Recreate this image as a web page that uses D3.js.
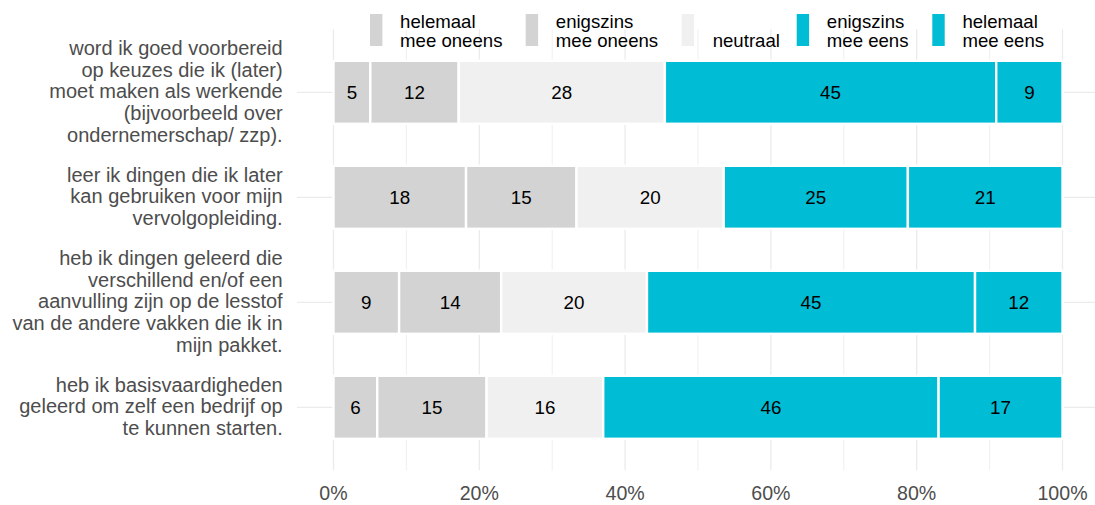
<!DOCTYPE html>
<html>
<head>
<meta charset="utf-8">
<script src="https://cdn.jsdelivr.net/npm/d3@7"></script>
<style>
  html, body { margin: 0; padding: 0; background: #fff; }
  svg { display: block; font-family: "Liberation Sans", Arial, sans-serif; }
</style>
</head>
<body>
<svg id="chart" width="1095" height="505"></svg>
<script>
// Statements (one per bar), with line breaks as drawn
const categories = [
  "word ik goed voorbereid\nop keuzes die ik (later)\nmoet maken als werkende\n(bijvoorbeeld over\nondernemerschap/ zzp).",
  "leer ik dingen die ik later\nkan gebruiken voor mijn\nvervolgopleiding.",
  "heb ik dingen geleerd die\nverschillend en/of een\naanvulling zijn op de lesstof\nvan de andere vakken die ik in\nmijn pakket.",
  "heb ik basisvaardigheden\ngeleerd om zelf een bedrijf op\nte kunnen starten."
];

// Answer scale, left to right
const answers = [
  "helemaal\nmee oneens",
  "enigszins\nmee oneens",
  "neutraal",
  "enigszins\nmee eens",
  "helemaal\nmee eens"
];

// Percentages per statement, in answer order
const helemaalOneens  = [5, 18, 9, 6];
const enigszinsOneens = [12, 15, 14, 15];
const neutraal        = [28, 20, 20, 16];
const enigszinsEens   = [45, 25, 45, 46];
const helemaalEens    = [9, 21, 12, 17];

const xTicks = [0, 0.2, 0.4, 0.6, 0.8, 1.0];
const xMinor = [0.1, 0.3, 0.5, 0.7, 0.9];

const colors = ["#d3d3d3", "#d3d3d3", "#f0f0f0", "#00bcd4", "#00bcd4"];

const series = [helemaalOneens, enigszinsOneens, neutraal, enigszinsEens, helemaalEens];
const rows = categories.map((c, i) => {
  const r = { cat: c };
  answers.forEach((a, j) => { r[a] = series[j][i]; });
  return r;
});

const svg = d3.select("#chart");
const W = 1095, H = 505;

// Scales
const x = d3.scaleLinear().domain([0, 1]).range([333.5, 1062.5]);
const span = x(1) - x(0);
const panelL = x(0) - span * 0.05, panelR = Math.min(W, x(1) + span * 0.05);
const y = d3.scalePoint().domain(categories).range([92.3, 407.3]);
const step = y.step();
const panelT = y(categories[0]) - 0.6 * step, panelB = y(categories[categories.length - 1]) + 0.6 * step;
const barH = 0.6 * step;

// Grid
const grid = svg.append("g");
grid.selectAll("line.minor").data(xMinor).join("line")
  .attr("x1", d => x(d)).attr("x2", d => x(d))
  .attr("y1", panelT).attr("y2", panelB)
  .attr("stroke", "#ebebeb").attr("stroke-width", 0.8);
grid.selectAll("line.major").data(xTicks).join("line")
  .attr("x1", d => x(d)).attr("x2", d => x(d))
  .attr("y1", panelT).attr("y2", panelB)
  .attr("stroke", "#ebebeb").attr("stroke-width", 1.3);
grid.selectAll("line.hy").data(categories).join("line")
  .attr("x1", panelL).attr("x2", panelR)
  .attr("y1", d => y(d)).attr("y2", d => y(d))
  .attr("stroke", "#ebebeb").attr("stroke-width", 1.3);

// Stacked, normalised to 100%
const stack = d3.stack().keys(answers).offset(d3.stackOffsetExpand);
const stacked = stack(rows);

const layers = svg.append("g").selectAll("g").data(stacked).join("g")
  .attr("fill", (d, i) => colors[i]);

layers.selectAll("rect").data(d => d.map(s => ({ s, key: d.key, row: s.data })))
  .join("rect")
  .attr("x", d => x(d.s[0]))
  .attr("width", d => x(d.s[1]) - x(d.s[0]))
  .attr("y", d => y(d.row.cat) - barH / 2)
  .attr("height", barH)
  .attr("stroke", "#ffffff").attr("stroke-width", 2.4);

// Value labels
const labels = svg.append("g");
stacked.forEach(layer => {
  layer.forEach(s => {
    labels.append("text")
      .attr("x", (x(s[0]) + x(s[1])) / 2)
      .attr("y", y(s.data.cat) + 6.5)
      .attr("text-anchor", "middle")
      .attr("font-size", 18.8)
      .attr("fill", "#000")
      .text(s.data[layer.key]);
  });
});

// X axis tick labels
svg.append("g").selectAll("text").data(xTicks).join("text")
  .attr("x", d => x(d)).attr("y", 500)
  .attr("text-anchor", "middle")
  .attr("font-size", 19.6)
  .attr("fill", "#4d4d4d")
  .text(d3.format(".0%"));

// Y axis labels (multi-line, right aligned)
const lineH = 21.67;
const yl = svg.append("g");
categories.forEach(c => {
  const lines = c.split("\n");
  const t = yl.append("text")
    .attr("text-anchor", "end")
    .attr("font-size", 20)
    .attr("fill", "#4d4d4d");
  lines.forEach((ln, k) => {
    t.append("tspan")
      .attr("x", 282.7)
      .attr("y", y(c) + 6 + (k - (lines.length - 1) / 2) * lineH)
      .text(ln);
  });
});

// Legend
const keyX = [370, 525.7, 681.7, 796.7, 932.3];
const leg = svg.append("g");
answers.forEach((a, i) => {
  leg.append("rect")
    .attr("x", keyX[i]).attr("y", 14)
    .attr("width", 12.4).attr("height", 32)
    .attr("fill", colors[i]);
  const lines = a.split("\n");
  const t = leg.append("text")
    .attr("font-size", 18.6)
    .attr("fill", "#000");
  lines.forEach((ln, k) => {
    t.append("tspan")
      .attr("x", keyX[i] + 12.4 + (i === 2 ? 18.6 : 17.7))
      .attr("y", 46.7 - (lines.length - 1 - k) * 19)
      .text(ln);
  });
});
</script>
</body>
</html>
